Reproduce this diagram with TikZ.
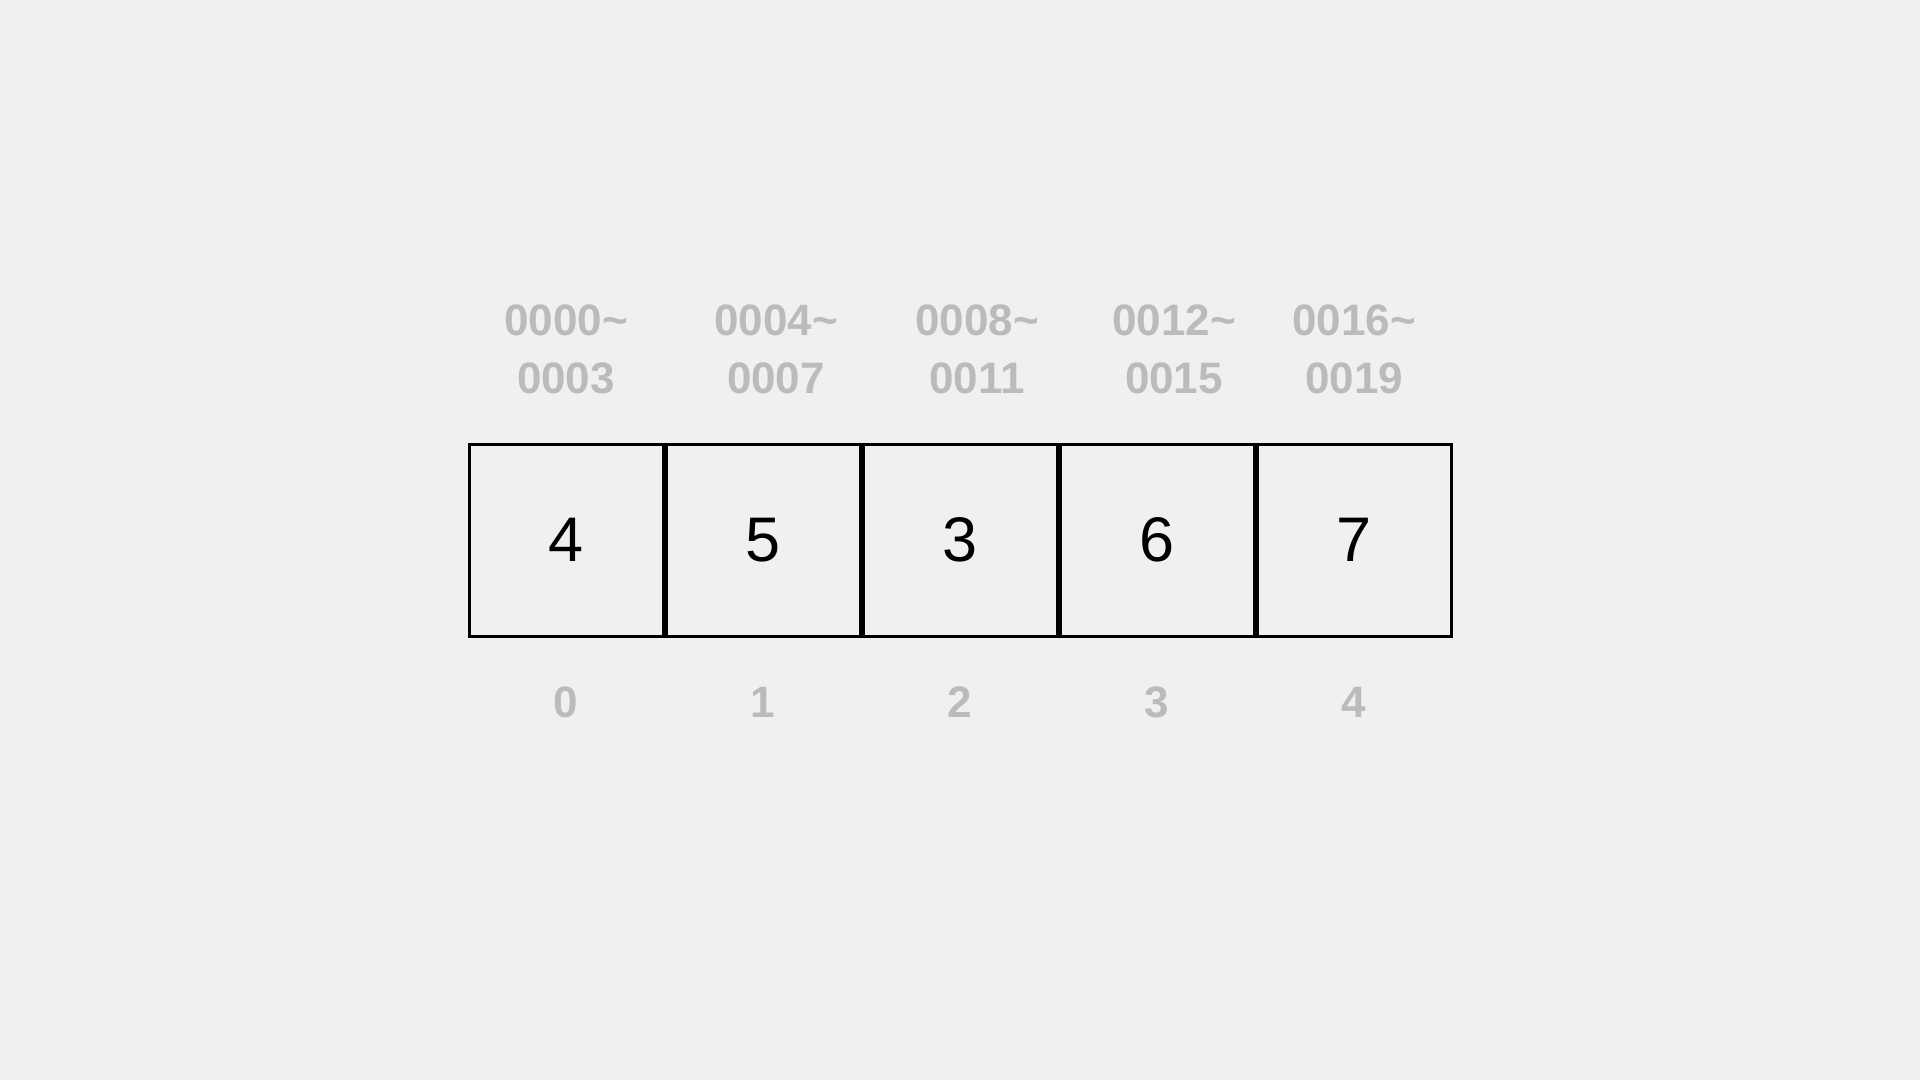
\documentclass[tikz,border=0pt]{standalone}
\usepackage{fontspec}
\setmainfont{Liberation Sans}
\definecolor{bg}{HTML}{F0F0F0}
\definecolor{lbl}{HTML}{BBBBBB}
\begin{document}
\begin{tikzpicture}[x=1pt,y=-1pt,
  cell/.style={draw=black,line width=3pt,rectangle,minimum width=194pt,minimum height=192pt,inner sep=0pt,
    font=\fontsize{63}{63}\selectfont,text=black},
  addr/.style={anchor=base,inner sep=0pt,text=lbl,font=\fontsize{44}{44}\selectfont\bfseries},
  idx/.style={anchor=base,inner sep=0pt,text=lbl,font=\fontsize{44}{44}\selectfont\bfseries}]
\fill[bg] (0,0) rectangle (1920,1080);
\useasboundingbox (0,0) rectangle (1920,1080);
\foreach \v [count=\i from 0] in {4,5,3,6,7}{
  \node[cell] (c\i) at ({566+197*\i},540) {\v};
  \node[idx] (i\i) at ({566+197*\i},717) {\i};
}
\foreach \x/\a/\b [count=\i from 0] in {566/0000/0003,776/0004/0007,977/0008/0011,1174/0012/0015,1354/0016/0019}{
  \node[addr] (a\i) at (\x,335) {\a\char"007E};
  \node[addr] (b\i) at (\x,393) {\b};
}
\end{tikzpicture}
\end{document}
